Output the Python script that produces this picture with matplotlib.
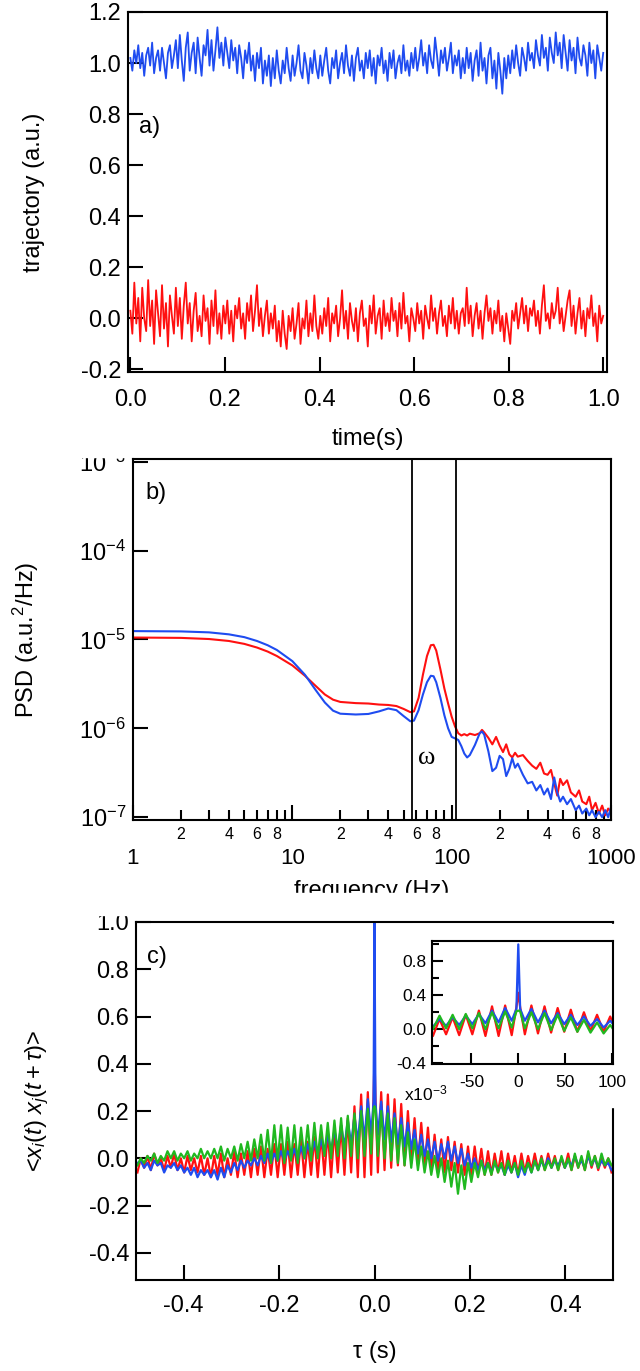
import numpy as np
import matplotlib
matplotlib.use('Agg')
import matplotlib.pyplot as plt
from matplotlib.patches import Rectangle
from matplotlib.ticker import FixedLocator, FuncFormatter, NullLocator, LogLocator, MultipleLocator

plt.rcParams['font.family'] = ['Liberation Sans', 'DejaVu Sans']
plt.rcParams['mathtext.fontset'] = 'custom'
plt.rcParams['mathtext.rm'] = 'Liberation Sans'
plt.rcParams['mathtext.it'] = 'Liberation Sans:italic'
plt.rcParams['axes.linewidth'] = 1.5

RED = '#ff1010'
BLUE = '#1f4cf0'
GREEN = '#20b820'

# ---- a) trajectories, in hundredths of a.u. (read off the picture)
blue_traj = [
    102, 97, 105, 100, 107, 98, 104, 95, 103, 106, 99, 108, 96, 102, 105, 97, 106, 100, 94, 104, 107, 98, 103, 109,
    98, 111, 101, 93, 106, 112, 97, 104, 108, 96, 110, 102, 95, 107, 103, 113, 99, 109, 97, 105, 114, 102, 108, 99,
    110, 104, 98, 109, 101, 106, 96, 107, 102, 94, 105, 100, 108, 97, 103, 93, 104, 98, 106, 92, 101, 95, 103, 91,
    102, 94, 105, 97, 92, 101, 96, 106, 98, 93, 103, 95, 100, 107, 97, 94, 104, 99, 92, 102, 96, 105, 98, 94,
    103, 95, 101, 106, 97, 92, 102, 98, 105, 94, 100, 104, 96, 107, 99, 95, 103, 93, 102, 106, 97, 101, 94, 104,
    98, 105, 95, 102, 92, 103, 99, 106, 96, 101, 93, 104, 98, 105, 94, 100, 103, 96, 107, 97, 101, 95, 104, 98,
    106, 97, 102, 109, 99, 104, 96, 107, 101, 98, 110, 103, 95, 105, 100, 106, 97, 102, 108, 96, 103, 99, 105, 94,
    102, 96, 106, 98, 104, 93, 101, 105, 95, 108, 97, 102, 92, 103, 106, 94, 101, 90, 104, 97, 88, 102, 94, 103,
    96, 105, 98, 107, 100, 95, 106, 102, 97, 108, 101, 104, 98, 109, 103, 99, 111, 102, 106, 97, 110, 104, 100, 112,
    103, 108, 98, 111, 104, 97, 109, 101, 106, 96, 110, 102, 99, 107, 103, 95, 108, 100, 105, 94, 107, 102, 97, 104,
]
red_traj = [
    3, -6, 14, -2, 8, -9, 12, 0, -5, 15, -3, 7, -10, 11, 2, -7, 13, -4, 6, -11, 9, 1, -6, 12,
    -3, 8, -8, 5, 14, -2, 6, -9, 3, 10, -5, 1, -7, 9, -1, 4, -10, 7, -3, 11, -6, 2, -8, 5,
    -2, 7, -6, 3, -9, 5, 0, 8, -4, 2, -8, 6, -1, 9, -5, 3, 13, -3, 4, -7, 1, 7, -6, 2,
    -4, 5, -9, -1, -11, 3, -6, -12, 1, -5, 4, -8, -2, 6, -10, 0, -4, 7, -7, 2, -5, 9, -3, -8,
    1, -6, 4, -3, 8, -9, 2, -2, 5, -7, 0, 11, -4, 3, -8, 6, -1, -5, 4, -9, 2, 7, -3, 0,
    -11, 5, -2, 9, -6, 1, 4, -8, 7, -3, 2, -5, 8, -1, 3, -7, 6, -4, 10, -2, 1, -9, 4, 0,
    -5, 6, -2, 3, -8, 5, 0, -4, 9, -1, 4, -6, 2, 7, -3, 1, -7, 5, -2, 8, -4, 3, -6, 2,
    4, -3, 12, -2, 5, -7, 1, 6, -4, 3, -8, 2, 9, -1, 4, -6, 3, -2, 7, -5, 1, -9, 2, -4,
    -10, 3, -1, 6, -4, 2, 8, -2, 5, -5, 4, 1, 7, -3, 3, -6, 5, 13, -1, 2, -4, 6, 0, 3,
    12, -2, 4, -5, 1, 7, 11, -3, 5, -6, 2, 8, -4, 3, -7, 4, 0, 9, -3, 2, -9, 5, -2, 1,
]

# ---- b) power spectral density
freq = [1, 2, 3, 4, 5, 6, 7, 8, 10, 12, 14, 16, 18, 20, 25, 30, 35, 40, 45, 50, 55, 58,
        62, 66, 70, 74, 77, 80, 85, 90, 95, 100, 105, 110, 115, 120, 125, 130,
        140, 150, 155, 160, 170, 180, 190, 200, 210, 220, 230, 240, 250, 260, 280, 300,
        320, 340, 360, 380, 400, 420, 440, 460, 480, 500, 530, 560, 600, 630, 660, 700,
        730, 760, 800, 840, 880, 920, 960, 1000]
psd_red = [1.05e-5, 1.04e-5, 1.01e-5, 9.6e-6, 8.9e-6, 8.1e-6, 7.3e-6, 6.5e-6,
           5.1e-6, 3.9e-6, 3.0e-6, 2.4e-6, 2.1e-6, 1.98e-6,
           1.92e-6, 1.9e-6, 1.85e-6, 1.83e-6, 1.78e-6, 1.65e-6, 1.52e-6, 1.55e-6,
           2.2e-6, 4.0e-6, 6.5e-6, 8.6e-6, 8.7e-6, 7.5e-6, 4.6e-6, 2.8e-6, 1.9e-6, 1.35e-6,
           1.05e-6, 8.8e-7, 8.3e-7, 8.6e-7, 8.3e-7, 8.7e-7,
           8.4e-7, 8.8e-7, 9.6e-7, 9.0e-7, 7.8e-7, 6.6e-7, 8.0e-7, 6.4e-7,
           5.4e-7, 6.6e-7, 5.1e-7, 4.7e-7, 5.3e-7, 4.8e-7, 5.0e-7, 4.3e-7,
           3.8e-7, 3.5e-7, 4.1e-7, 3.1e-7, 3.0e-7, 3.4e-7, 2.4e-7, 1.75e-7, 2.7e-7, 2.3e-7,
           2.6e-7, 1.9e-7, 1.7e-7, 2.0e-7, 1.5e-7, 1.4e-7, 1.7e-7, 1.2e-7, 1.45e-7,
           1.1e-7, 1.35e-7, 1.05e-7, 1.25e-7, 1.15e-7]
psd_blue = [1.24e-5, 1.23e-5, 1.2e-5, 1.14e-5, 1.06e-5, 9.6e-6, 8.6e-6, 7.6e-6,
            5.7e-6, 4.0e-6, 2.7e-6, 1.95e-6, 1.58e-6, 1.46e-6,
            1.43e-6, 1.45e-6, 1.55e-6, 1.67e-6, 1.6e-6, 1.37e-6, 1.2e-6, 1.22e-6,
            1.6e-6, 2.4e-6, 3.3e-6, 3.9e-6, 3.85e-6, 3.3e-6, 2.2e-6, 1.4e-6, 1.0e-6, 8.0e-7,
            7.7e-7, 7.4e-7, 6.3e-7, 5.2e-7, 4.7e-7, 5.0e-7,
            6.5e-7, 8.8e-7, 9.2e-7, 8.5e-7, 5.5e-7, 3.3e-7, 3.6e-7, 4.9e-7,
            4.5e-7, 2.9e-7, 3.5e-7, 4.6e-7, 3.6e-7, 4.0e-7, 3.0e-7, 2.4e-7,
            2.5e-7, 2.0e-7, 2.3e-7, 1.8e-7, 2.1e-7, 1.6e-7, 2.8e-7, 1.9e-7, 1.5e-7, 1.7e-7,
            1.4e-7, 1.6e-7, 1.2e-7, 1.35e-7, 1.1e-7, 1.25e-7, 1.05e-7, 1.2e-7, 1.0e-7,
            1.15e-7, 1.0e-7, 1.2e-7, 1.0e-7, 1.3e-7]
omega_band = [56, 106]

# ---- c) correlation functions: one value per half period (7 ms) of the
# oscillation, plus the narrow spike around tau = 0 (-2, 0, +2 ms)
corr_red = [
    -0.06, 0.00, -0.04, 0.01, -0.05, 0.02, -0.03, 0.00, -0.05, 0.01, -0.04, 0.02, -0.05, 0.00, -0.06, 0.01, -0.05, 0.00, -0.06, 0.01, -0.07,
    0.00, -0.08, 0.01, -0.07, 0.02, -0.08, 0.00, -0.07, 0.03, -0.08, 0.02, -0.07, 0.03, -0.08, 0.04, -0.07, 0.05, -0.08, 0.04, -0.07, 0.06, -0.08,
    0.06, -0.07, 0.07, -0.08, 0.06, -0.07, 0.08, -0.08, 0.07, -0.07, 0.09, -0.08, 0.10, -0.07, 0.11, -0.08, 0.12, -0.06, 0.14, -0.07, 0.17,
    -0.06, 0.22, -0.08, 0.27, -0.08, 0.28, -0.07, 0.26, 0.43, 0.26, -0.06, 0.28, -0.05, 0.27, -0.04, 0.25, -0.03,
    0.23, -0.03, 0.20, -0.02, 0.17, -0.03, 0.15, -0.04, 0.13, -0.05, 0.10, -0.05, 0.08, -0.06, 0.09, -0.05, 0.07, -0.06, 0.06, -0.07, 0.05,
    -0.07, 0.05, -0.06, 0.04, -0.07, 0.03, -0.07, 0.02, -0.06, 0.03, -0.07, 0.02, -0.06, 0.01, -0.07, 0.02, -0.06, 0.01, -0.05, 0.02, -0.05,
    0.01, -0.05, 0.02, -0.04, 0.01, -0.05, 0.00, -0.04, 0.02, -0.05, 0.01, -0.04, 0.00, -0.05, 0.02, -0.04, 0.01, -0.05, 0.00, -0.04, 0.00, -0.06,
]
corr_blue = [
    -0.02, -0.01, -0.04, -0.02, -0.05, -0.01, -0.03, -0.02, -0.06, -0.03, -0.04, -0.02, -0.05, -0.03, -0.06, -0.04, -0.07, -0.04, -0.08, -0.05, -0.07,
    -0.05, -0.08, -0.05, -0.09, -0.04, -0.08, -0.03, -0.06, -0.02, -0.05, -0.01, -0.04, -0.01, -0.03, 0.00, -0.03, 0.01, -0.02, 0.02, -0.02, 0.02, -0.01,
    0.03, -0.01, 0.03, 0.00, 0.04, -0.01, 0.05, 0.00, 0.06, 0.01, 0.07, 0.02, 0.08, 0.02, 0.10, 0.03, 0.12, 0.04, 0.14, 0.05, 0.16,
    0.06, 0.18, 0.07, 0.22, 0.08, 0.25, 0.10, 0.24, 1.00, 0.24, 0.10, 0.24, 0.08, 0.22, 0.07, 0.19, 0.06,
    0.17, 0.05, 0.15, 0.04, 0.12, 0.02, 0.10, 0.01, 0.08, 0.00, 0.07, -0.01, 0.06, 0.00, 0.07, -0.01, 0.05, -0.02, 0.04, -0.03, 0.02,
    -0.04, 0.00, -0.05, -0.01, -0.05, -0.02, -0.06, -0.02, -0.05, -0.03, -0.07, -0.03, -0.06, -0.02, -0.08, -0.03, -0.07, -0.02, -0.06, -0.01, -0.05,
    -0.01, -0.04, 0.00, -0.04, -0.01, -0.03, 0.00, -0.04, -0.01, -0.03, 0.01, -0.03, -0.01, -0.04, 0.01, -0.03, 0.00, -0.04, -0.01, -0.03, -0.02, -0.05,
]
corr_green = [
    -0.03, 0.00, -0.02, 0.01, -0.01, 0.02, -0.02, 0.01, -0.01, 0.03, 0.00, 0.03, -0.01, 0.02, 0.00, 0.03, -0.01, 0.02, 0.00, 0.04, 0.00,
    0.03, 0.00, 0.04, 0.00, 0.05, -0.01, 0.04, 0.00, 0.05, -0.01, 0.06, 0.00, 0.07, -0.01, 0.08, 0.00, 0.10, -0.01, 0.12, -0.02, 0.14, -0.01,
    0.14, -0.02, 0.13, -0.01, 0.14, -0.02, 0.13, 0.00, 0.14, -0.01, 0.15, 0.00, 0.14, 0.01, 0.15, 0.00, 0.16, 0.01, 0.17, 0.00, 0.18,
    0.01, 0.19, 0.00, 0.20, 0.01, 0.21, 0.02, 0.21, 0.22, 0.21, 0.01, 0.20, 0.00, 0.19, -0.01, 0.17, -0.02,
    0.14, -0.03, 0.11, -0.04, 0.08, -0.05, 0.05, -0.06, 0.03, -0.07, 0.01, -0.08, 0.00, -0.10, -0.01, -0.12, -0.02, -0.15, -0.03, -0.13, -0.02,
    -0.10, -0.02, -0.08, -0.01, -0.07, -0.02, -0.07, -0.01, -0.06, -0.02, -0.07, -0.01, -0.06, -0.02, -0.07, -0.01, -0.06, -0.02, -0.06, -0.01, -0.05,
    0.00, -0.05, -0.01, -0.04, 0.00, -0.05, 0.01, -0.04, 0.00, -0.05, 0.02, -0.04, 0.01, -0.05, 0.03, -0.03, 0.01, -0.04, 0.02, -0.03, 0.00, -0.03,
]
spike_tau = [-0.002, 0.0, 0.002]

W, H = 640, 1371
fig = plt.figure(figsize=(W / 100, H / 100), dpi=100)


def box(x0, y0, x1, y1):
    # pixel box (from top-left) -> figure fraction rect
    return [x0 / W, 1 - y1 / H, (x1 - x0) / W, (y1 - y0) / H]


def style(ax, size=17):
    ax.tick_params(which='both', direction='in', top=False, right=False,
                   labelsize=size, width=1.5)
    ax.tick_params(which='major', length=11)
    ax.tick_params(which='minor', length=7)


# ---------------- a)
ax1 = fig.add_axes(box(128, 12, 607, 372))
t = np.linspace(0, 1, len(blue_traj))
ax1.plot(t, np.array(red_traj) / 100, color=RED, lw=1.3)
ax1.plot(t, np.array(blue_traj) / 100, color=BLUE, lw=1.3)
ax1.set_xlim(-0.005, 1.008)
ax1.set_ylim(-0.21, 1.2)
ax1.xaxis.set_major_locator(MultipleLocator(0.2))
ax1.yaxis.set_major_locator(MultipleLocator(0.2))
ax1.xaxis.set_major_formatter(FuncFormatter(lambda v, p: f'{v:.1f}'))
ax1.yaxis.set_major_formatter(FuncFormatter(lambda v, p: f'{v:.1f}'))
style(ax1)
ax1.tick_params(axis='x', pad=12)
ax1.tick_params(axis='y', pad=5)
ax1.set_xlabel('time(s)', fontsize=17)
ax1.xaxis.set_label_coords(0.5, -0.155)
ax1.set_ylabel('trajectory (a.u.)', fontsize=17)
ax1.yaxis.set_label_coords(-0.173, 0.5)
ax1.text(0.023, 0.68, 'a)', transform=ax1.transAxes, fontsize=17, va='center')

# ---------------- b)
ax2 = fig.add_axes(box(133, 459, 611, 820))
ax2.plot(freq, psd_red, color=RED, lw=1.5)
ax2.plot(freq, psd_blue, color=BLUE, lw=1.5)
for f in omega_band:
    ax2.axvline(f, color='black', lw=1.3)
ax2.set_xscale('log')
ax2.set_yscale('log')
ax2.set_xlim(1, 1000)
ax2.set_ylim(9.3e-8, 1.07e-3)
ax2.xaxis.set_major_locator(FixedLocator([1, 10, 100, 1000]))
ax2.xaxis.set_major_formatter(FuncFormatter(lambda v, p: f'{int(round(v))}'))
ax2.xaxis.set_minor_locator(LogLocator(base=10, subs=range(2, 10)))


def minor_lab(v, p):
    d = int(round(v / 10 ** np.floor(np.log10(v) + 1e-9)))
    return str(d) if d in (2, 4, 6, 8) else ''


ax2.xaxis.set_minor_formatter(FuncFormatter(minor_lab))
ax2.yaxis.set_major_locator(FixedLocator([1e-7, 1e-6, 1e-5, 1e-4, 1e-3]))
ax2.yaxis.set_major_formatter(FuncFormatter(
    lambda v, p: r'$\mathregular{10^{%d}}$' % int(round(np.log10(v)))))
ax2.yaxis.set_minor_locator(NullLocator())
style(ax2)
ax2.tick_params(axis='x', which='major', pad=20, labelsize=16)
ax2.tick_params(axis='x', which='minor', pad=5, labelsize=11.5)
ax2.tick_params(axis='y', pad=5, labelsize=17)
ax2.set_xlabel('frequency (Hz)', fontsize=17)
ax2.xaxis.set_label_coords(0.5, -0.165)
ax2.set_ylabel(r'PSD (a.u.$^{2}$/Hz)', fontsize=17)
ax2.yaxis.set_label_coords(-0.192, 0.5)
ax2.text(0.025, 0.906, 'b)', transform=ax2.transAxes, fontsize=17, va='center')
ax2.text(70, 4.6e-7, 'ω', fontsize=19, family=['Liberation Serif', 'DejaVu Serif'],
         ha='center', va='center')

# ---------------- c)
ax3 = fig.add_axes(box(136, 922, 613, 1280))
half = np.linspace(-0.497, 0.497, 143)
tau = np.concatenate([half[:71], spike_tau, half[72:]])
for vals, col in ((corr_red, RED), (corr_blue, BLUE), (corr_green, GREEN)):
    ax3.plot(tau, vals, color=col, lw=1.6)
ax3.set_xlim(-0.5, 0.5)
ax3.set_ylim(-0.515, 1.0)
ax3.xaxis.set_major_locator(FixedLocator([-0.4, -0.2, 0.0, 0.2, 0.4]))
ax3.yaxis.set_major_locator(MultipleLocator(0.2))
ax3.xaxis.set_major_formatter(FuncFormatter(lambda v, p: f'{v:.1f}'))
ax3.yaxis.set_major_formatter(FuncFormatter(lambda v, p: f'{v:.1f}'))
style(ax3)
ax3.tick_params(axis='x', pad=11)
ax3.tick_params(axis='y', pad=5)
ax3.set_xlabel('τ (s)', fontsize=17)
ax3.xaxis.set_label_coords(0.5, -0.17)
ax3.set_ylabel(r'<$x_i(t)\ x_j(t+\tau)$>', fontsize=17)
ax3.yaxis.set_label_coords(-0.178, 0.5)
ax3.text(0.023, 0.902, 'c)', transform=ax3.transAxes, fontsize=17, va='center')

# white panel behind the inset
fig.add_artist(Rectangle(box(412, 924, 632, 1107)[:2], 220 / W, 183 / H,
                         transform=fig.transFigure, color='white', zorder=1))

ins = fig.add_axes(box(432, 941, 613, 1064), zorder=2)
for vals, col in ((corr_red, RED), (corr_blue, BLUE), (corr_green, GREEN)):
    ins.plot(tau, vals, color=col, lw=1.6)
ins.set_xlim(-0.092, 0.101)
ins.set_ylim(-0.41, 1.04)
ins.xaxis.set_major_locator(FixedLocator([-0.05, 0.0, 0.05, 0.1]))
ins.xaxis.set_major_formatter(FuncFormatter(lambda v, p: f'{int(round(v * 1000))}'))
ins.yaxis.set_major_locator(FixedLocator([-0.4, 0.0, 0.4, 0.8]))
ins.yaxis.set_minor_locator(FixedLocator([-0.2, 0.2, 0.6, 1.0]))
ins.yaxis.set_major_formatter(FuncFormatter(lambda v, p: f'{v:.1f}'))
style(ins, size=12.5)
ins.tick_params(which='major', length=8)
ins.tick_params(which='minor', length=5)
ins.tick_params(axis='x', pad=8)
ins.tick_params(axis='y', pad=4)
ins.text(-0.155, -0.24, r'x10$^{-3}$', transform=ins.transAxes, fontsize=12.5,
         va='center', ha='left')

# cropped edges of the original composite
fig.add_artist(Rectangle(box(0, 893, W, 915)[:2], 1, 22 / H,
                         transform=fig.transFigure, color='white', zorder=10))
fig.add_artist(Rectangle(box(60, 440, 128, 457)[:2], 68 / W, 17 / H,
                         transform=fig.transFigure, color='white', zorder=10))

fig.savefig('out.png', dpi=100)
